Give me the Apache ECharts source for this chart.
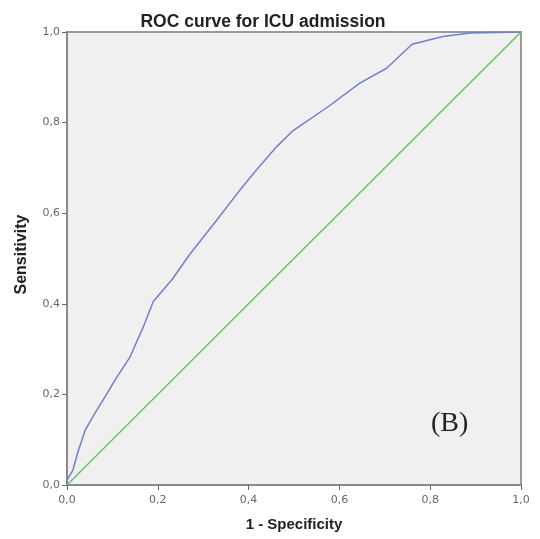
<!DOCTYPE html>
<html><head><meta charset="utf-8">
<script src="https://cdn.jsdelivr.net/npm/echarts@6/dist/echarts.min.js"></script>
<style>html,body{margin:0;padding:0;background:#fff}#c{width:540px;height:539px}</style>
</head><body><div id="c"></div>
<script>
const fpr = [0, 0, 0.013, 0.024, 0.040, 0.062, 0.084, 0.106, 0.139, 0.168, 0.190, 0.231, 0.271, 0.330, 0.381, 0.421, 0.462, 0.495, 0.575, 0.645, 0.704, 0.760, 0.828, 0.888, 1.0];
const tpr = [0, 0.011, 0.033, 0.073, 0.121, 0.159, 0.195, 0.232, 0.283, 0.349, 0.405, 0.453, 0.510, 0.585, 0.651, 0.700, 0.747, 0.780, 0.835, 0.887, 0.920, 0.973, 0.990, 0.998, 1.0];
const refX = [0, 1];
const refY = [0, 1];
const titleText = 'ROC curve for ICU admission';
const xName = '1 - Specificity';
const yName = 'Sensitivity';
const panelLabel = '(B)';

const fmt = v => v.toFixed(1).replace('.', ',');
const chart = echarts.init(document.getElementById('c'));
const sans = 'Liberation Sans, Arial, sans-serif';
const axisCommon = {
  type: 'value', min: 0, max: 1, interval: 0.2,
  axisLine: {show: true, lineStyle: {color: '#8a8a8a', width: 2}},
  axisTick: {show: true, length: 5, lineStyle: {color: '#666', width: 1}},
  splitLine: {show: false},
  nameLocation: 'middle'
};
chart.setOption({
  animation: false,
  title: {text: titleText, left: 258, top: 8, textAlign: 'center',
    textStyle: {fontFamily: sans, fontWeight: 'bold', fontSize: 17.5, color: '#222'}},
  grid: {left: 67, right: 19, top: 32, bottom: 54, show: true, backgroundColor: '#f0f0f0', borderColor: '#9a9a9a', borderWidth: 2},
  xAxis: Object.assign({}, axisCommon, {name: xName, nameGap: 32,
    axisLabel: {formatter: fmt, color: '#666', fontFamily: 'DejaVu Sans, sans-serif', fontSize: 11, margin: 10},
    nameTextStyle: {fontFamily: sans, fontWeight: 'bold', fontSize: 15, color: '#222'}}),
  yAxis: Object.assign({}, axisCommon, {name: yName, nameGap: 37,
    axisLabel: {formatter: fmt, color: '#666', fontFamily: 'DejaVu Sans, sans-serif', fontSize: 11, margin: 7},
    nameTextStyle: {fontFamily: sans, fontWeight: 'bold', fontSize: 16, color: '#222', padding: [0, 0, 0, 8]}}),
  graphic: [{type: 'text', x: 431, y: 424,
    style: {text: panelLabel, font: '28px "Liberation Serif", "DejaVu Serif", serif', fill: '#222', verticalAlign: 'middle', align: 'left'}}],
  series: [
    {type: 'line', data: fpr.map((x, i) => [x, tpr[i]]), symbol: 'none', smooth: false,
     lineStyle: {color: '#6f80cc', width: 1.5}},
    {type: 'line', data: refX.map((x, i) => [x, refY[i]]), symbol: 'none',
     lineStyle: {color: '#66c466', width: 1.5}}
  ]
});
</script></body></html>
